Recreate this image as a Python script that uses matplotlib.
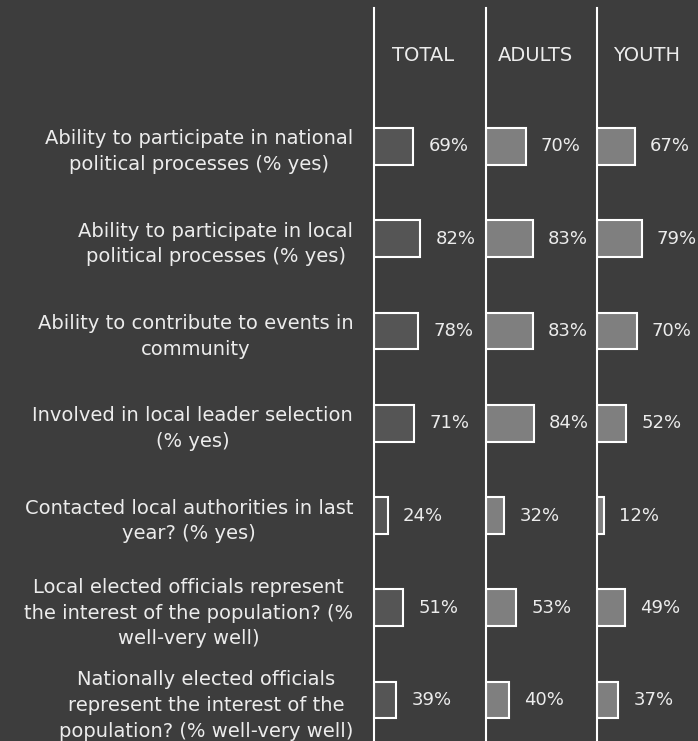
import matplotlib
matplotlib.use('Agg')
import matplotlib.pyplot as plt

categories = [
    'Ability to participate in national\npolitical processes (% yes)',
    'Ability to participate in local\npolitical processes (% yes)',
    'Ability to contribute to events in\ncommunity',
    'Involved in local leader selection\n(% yes)',
    'Contacted local authorities in last\nyear? (% yes)',
    'Local elected officials represent\nthe interest of the population? (%\nwell-very well)',
    'Nationally elected officials\nrepresent the interest of the\npopulation? (% well-very well)',
]
groups = ['TOTAL', 'ADULTS', 'YOUTH']
total = [69, 82, 78, 71, 24, 51, 39]
adults = [70, 83, 83, 84, 32, 53, 40]
youth = [67, 79, 70, 52, 12, 49, 37]

BG = '#3d3d3d'
FILLS = ['#555555', '#7f7f7f', '#7f7f7f']
FONT = 'DejaVu Sans'
TXT = '#ececec'


def renderGraph() -> None:
    fig = plt.figure(figsize=(6.98, 7.41), dpi=100, facecolor=BG)
    W, H = 698, 741
    lefts = [374, 486, 597]
    width = 112
    top, bottom = 8, 741
    rows = list(range(len(categories)))

    for i, (name, vals) in enumerate(zip(groups, [total, adults, youth])):
        ax = fig.add_axes([lefts[i] / W, 1 - bottom / H, width / W, (bottom - top) / H])
        ax.set_facecolor(BG)
        ax.barh(rows, vals, height=0.40, color=FILLS[i], edgecolor='white', linewidth=1.5)
        for r, v in zip(rows, vals):
            ax.annotate(f'{v}%', (v, r), xytext=(11, 0), textcoords='offset points',
                        ha='left', va='center', color=TXT, fontsize=13, family=FONT)
        ax.set_xlim(0, 198)
        ax.set_ylim(6.444, -1.501)
        for s in ['top', 'right', 'bottom']:
            ax.spines[s].set_visible(False)
        ax.spines['left'].set_color('white')
        ax.spines['left'].set_linewidth(1.5)
        ax.set_xticks([])
        ax.text(0.44, -0.99, name, ha='center', va='center', color=TXT,
                fontsize=14, family=FONT, transform=ax.get_yaxis_transform())
        if i == 0:
            ax.set_yticks(rows, categories)
            ax.tick_params(axis='y', length=0, pad=15, labelsize=14, labelcolor=TXT)
            for lbl in ax.get_yticklabels():
                lbl.set_multialignment('center')
                lbl.set_family(FONT)
                lbl.set_linespacing(1.45)
        else:
            ax.set_yticks([])

    plt.savefig('out.png', dpi=100, facecolor=BG)


if __name__ == '__main__':
    renderGraph()
